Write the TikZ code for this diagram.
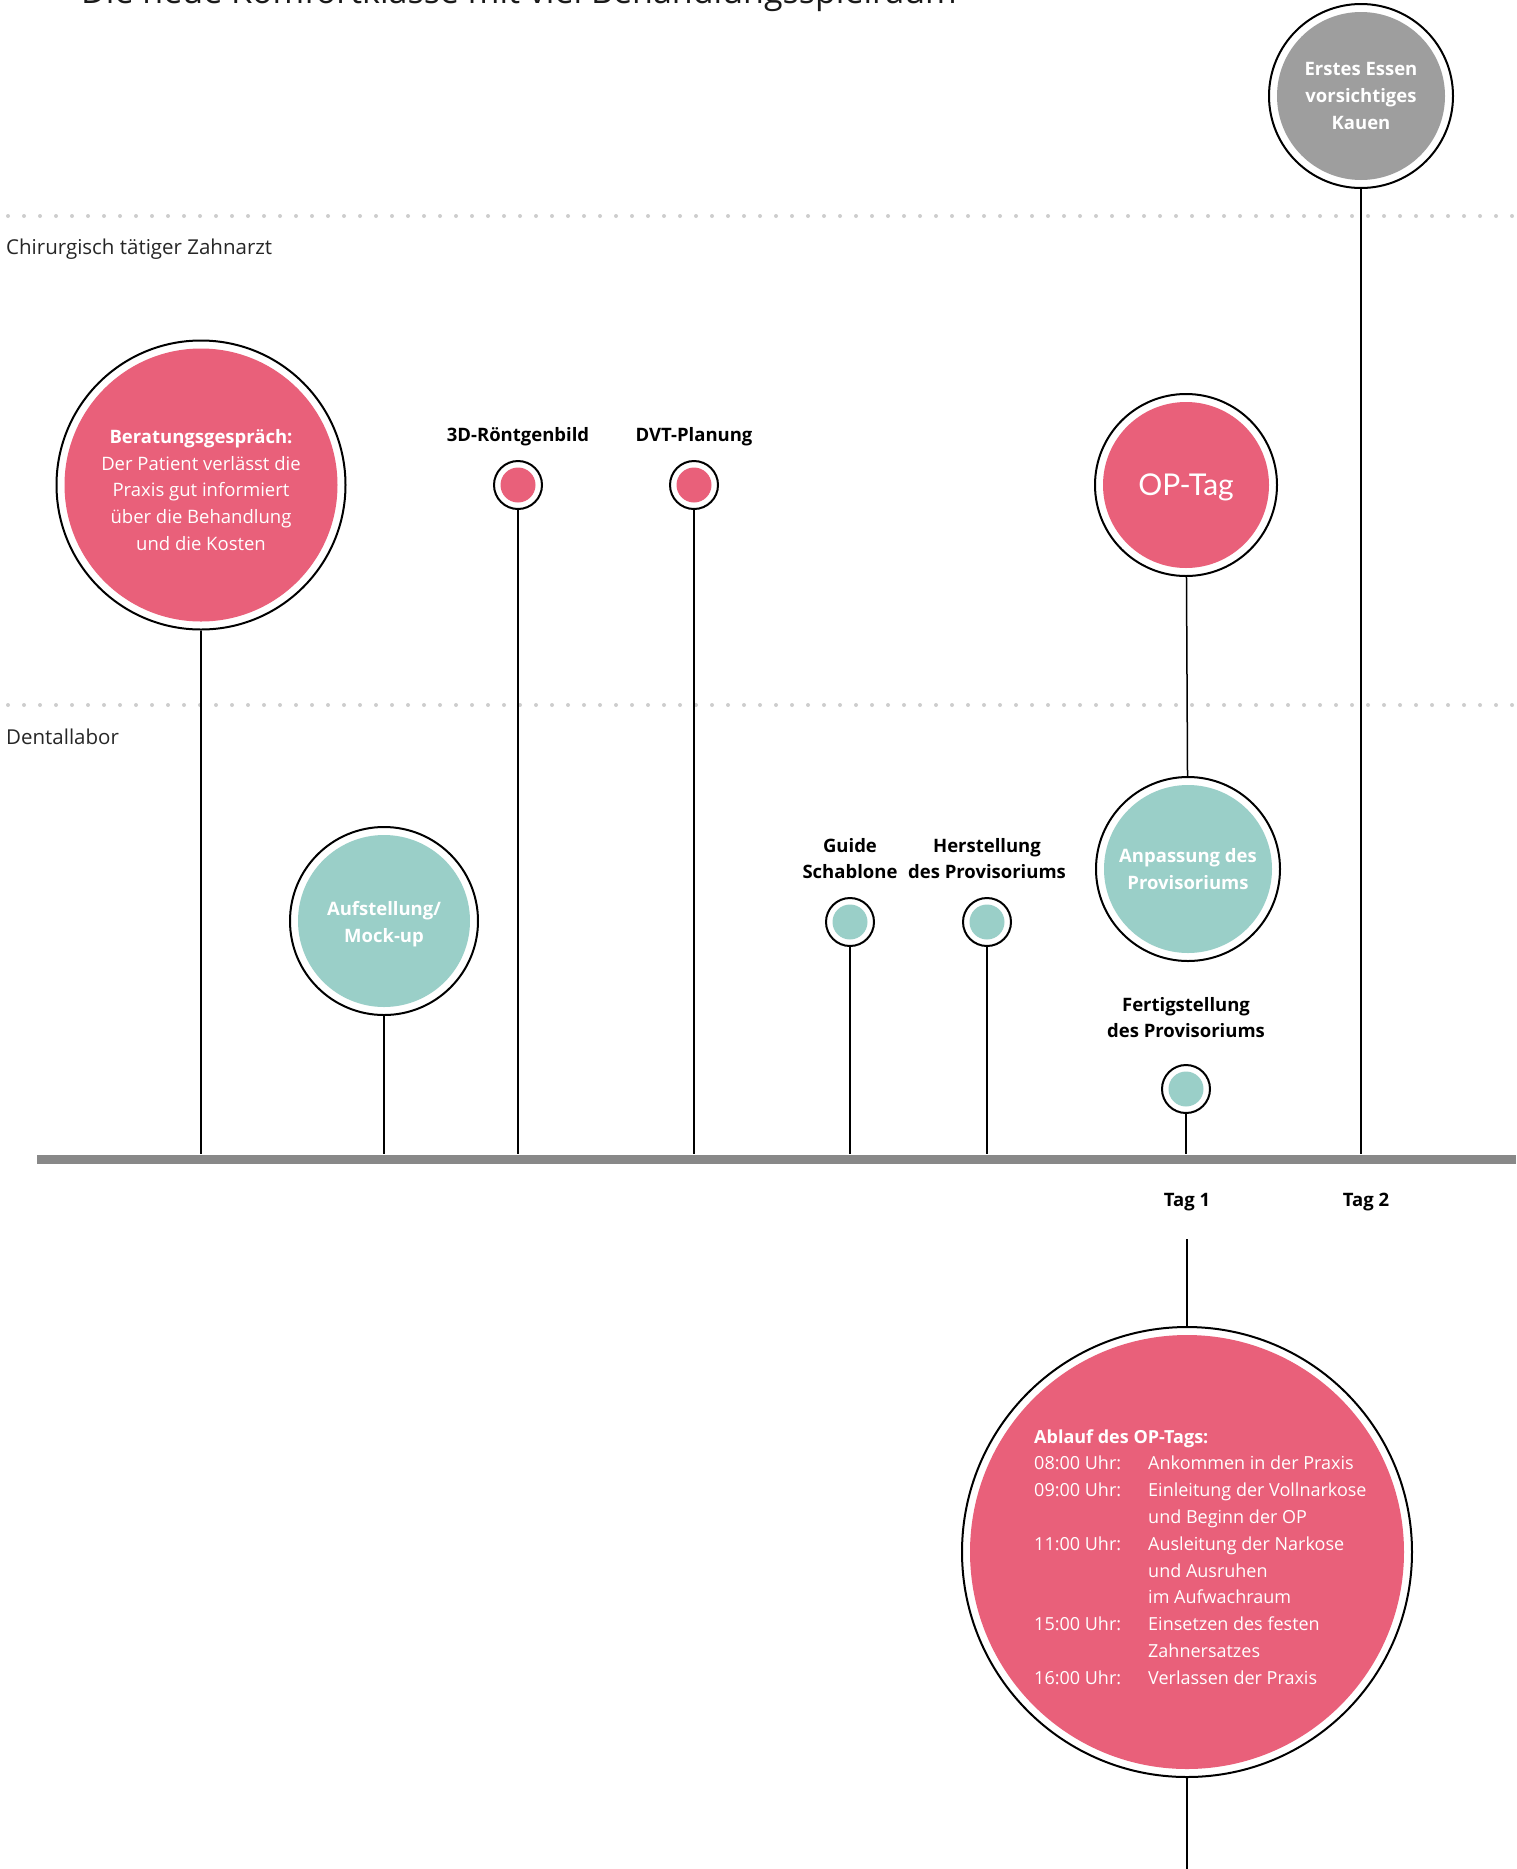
\documentclass[tikz,border=0pt]{standalone}
\usepackage{fontspec}
\setmainfont{Open Sans}
\newfontfamily\tagfont{Lato}
\usetikzlibrary{positioning}
\definecolor{C0}{RGB}{233, 96,122}
\definecolor{C1}{RGB}{154,207,200}
\definecolor{C2}{RGB}{158,158,158}
\definecolor{C3}{RGB}{136,136,136}
\definecolor{C4}{RGB}{205,205,205}

\tikzset{
  stage/.style 2 args={circle, draw=black, line width=2pt, fill=white, inner sep=0pt,
    minimum size=#2, text=white, align=center,
    font=\bfseries\fontsize{18.5}{26.8}\selectfont,
    path picture={\fill[#1] (path picture bounding box.center) circle ({#2/2-8pt});}},
  smalldot/.style={circle, draw=black, line width=2pt, fill=white, inner sep=0pt,
    minimum size=48pt,
    path picture={\fill[#1] (path picture bounding box.center) circle (17.5pt);}},
  stem/.style={black, line width=1.5pt},
  lbl/.style={font=\bfseries\fontsize{18.5}{26.5}\selectfont, align=center,
    inner sep=0pt, text depth=0pt},
  lane/.style={anchor=west, inner sep=0pt, font=\fontsize{20.5}{24}\selectfont, text=black!85},
  laneline/.style={C4, line width=4pt, line cap=round, dash pattern=on 0pt off 16pt},
}

\begin{document}
\begin{tikzpicture}[x=1pt, y=-1pt]
    \useasboundingbox (0,0) rectangle (1516,1869);
    %% title, cut at the top edge
    \node[anchor=base west, inner sep=0pt, font=\fontsize{34}{40}\selectfont, text=black!90]
        (title) at (81,3) {Die neue Komfortklasse mit viel Behandlungsspielraum};
    %% lanes
    \draw[laneline] (8,216) -- (1516,216);
    \draw[laneline] (8,705) -- (1516,705);
    \node[lane] (chir) at (6,249) {Chirurgisch tätiger Zahnarzt};
    \node[lane] (labor) at (6,737) {Dentallabor};
    %% time axis
    \coordinate (axis) at (0,1154);
    %% Zahnarzt
    \node[stage={C0}{289pt}, font=\fontsize{18.5}{26.8}\selectfont] (ber) at (201,485)
        {\rule{0pt}{24pt}\textbf{Beratungsgespräch:}\\Der Patient verlässt die\\Praxis gut informiert\\
         über die Behandlung\\und die Kosten};
    \node[smalldot=C0] (rtg) at (518,485) {};
    \node[smalldot=C0] (dvt) at (694,485) {};
    \node[lbl, above=18pt of rtg] (rtglbl) {3D-Röntgenbild};
    \node[lbl, above=18pt of dvt] (dvtlbl) {DVT-Planung};
    \node[stage={C0}{182pt}, font=\tagfont\fontsize{30}{36}\selectfont, text depth=0pt]
        (optag) at (1186,485) {OP-Tag};
    \node[stage={C2}{184pt}] (essen) at (1361,96) {Erstes Essen\\vorsichtiges\\Kauen};
    %% Dentallabor
    \node[stage={C1}{188pt}] (mock) at (384,921) {\rule{0pt}{20pt}Aufstellung/\\Mock-up};
    \node[smalldot=C1] (guide) at (850,922) {};
    \node[smalldot=C1] (herst) at (987,922) {};
    \node[lbl, above=18pt of guide] (guidelbl) {Guide\\Schablone};
    \node[lbl, above=18pt of herst] (herstlbl) {Herstellung\\des Provisoriums};
    \node[stage={C1}{184pt}] (anp) at (1188,869) {Anpassung des\\Provisoriums};
    \node[smalldot=C1] (fert) at (1186,1089) {};
    \node[lbl, above=26pt of fert] (fertlbl) {Fertigstellung\\des Provisoriums};
    %% stems
    \draw[stem] (ber) -- (ber |- axis);
    \draw[stem] (mock) -- (mock |- axis);
    \draw[stem] (rtg) -- (rtg |- axis);
    \draw[stem] (dvt) -- (dvt |- axis);
    \draw[stem] (guide) -- (guide |- axis);
    \draw[stem] (herst) -- (herst |- axis);
    \draw[stem] (optag) -- (anp);
    \draw[stem] (fert) -- (fert |- axis);
    \draw[stem] (essen) -- (essen |- axis);
    \draw[C3, line width=9pt] (37,1159) -- (1516,1159);
    %% days
    \node[lbl] (tag1) at (1187,1200) {Tag 1};
    \node[lbl] (tag2) at (1366,1200) {Tag 2};
    %% OP day schedule
    \node[stage={C0}{450pt}] (ablauf) at (1187,1552) {};
    \node[anchor=base west, inner sep=0pt, text=white, font=\fontsize{18}{26.8}\selectfont]
        (plan) at (1034,1443)
        {\begin{tabular}[t]{@{}p{114pt}@{}l@{}}
         \multicolumn{2}{@{}l@{}}{\bfseries Ablauf des OP-Tags:}\\
         08:00 Uhr: & Ankommen in der Praxis\\
         09:00 Uhr: & Einleitung der Vollnarkose\\
                    & und Beginn der OP\\
         11:00 Uhr: & Ausleitung der Narkose\\
                    & und Ausruhen\\
                    & im Aufwachraum\\
         15:00 Uhr: & Einsetzen des festen\\
                    & Zahnersatzes\\
         16:00 Uhr: & Verlassen der Praxis
         \end{tabular}};
    \coordinate (opstart) at (1187,1239);
    \coordinate (opend) at (1187,1875);
    \draw[stem] (opstart) -- (ablauf);
    \draw[stem] (ablauf) -- (opend);
\end{tikzpicture}
\end{document}
